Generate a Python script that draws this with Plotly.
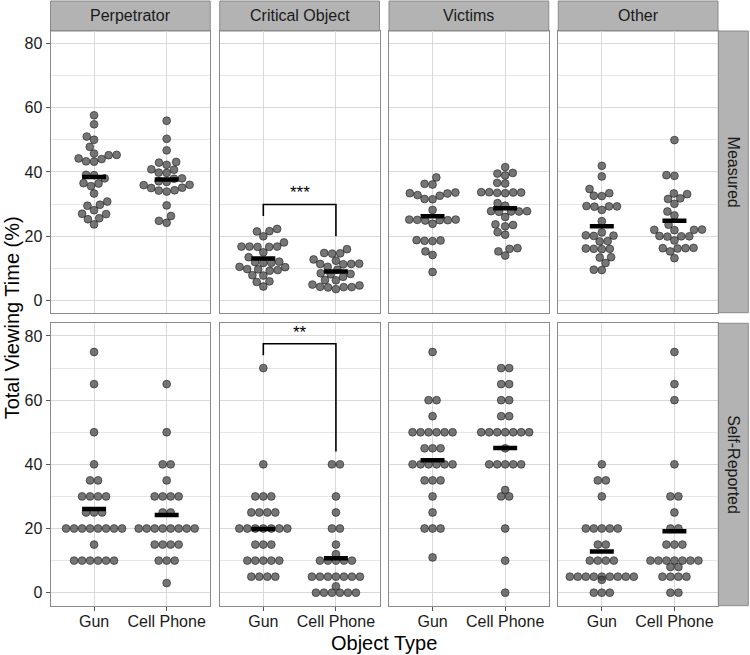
import numpy as np
import plotly.graph_objects as go

# facets / categories
facets = ["Perpetrator", "Critical Object", "Victims", "Other"]
measures = ["Measured", "Self-Reported"]
object_types = ["Gun", "Cell Phone"]
y_ticks = [0, 20, 40, 60, 80]

# Measured viewing time (%)
perp_meas_gun = [57.6, 54.8, 51.0, 50.0, 47.8, 45.2, 45.7, 45.3, 44.0, 43.2, 43.3, 44.2, 39.1, 39.0,
                 38.0, 36.5, 36.4, 35.6, 33.3, 30.8, 29.5, 29.8, 28.1, 27.0, 26.9, 25.6, 25.3, 23.7]
perp_meas_cell = [55.9, 50.3, 46.7, 43.1, 42.9, 42.2, 40.8, 40.7, 39.8, 39.7, 38.0, 37.9, 37.1, 36.9,
                  36.0, 35.9, 35.1, 35.0, 34.3, 34.2, 33.9, 29.6, 26.3, 24.8, 24.2]
crit_meas_gun = [22.3, 21.6, 21.5, 20.0, 18.1, 16.8, 16.8, 16.7, 16.8, 16.7, 15.0, 13.5, 12.1, 12.0,
                 11.8, 11.7, 10.5, 10.4, 9.3, 9.7, 9.8, 9.5, 7.9, 7.8, 5.8, 6.0, 4.4]
crit_meas_cell = [16.0, 14.7, 14.8, 14.6, 12.4, 12.8, 11.4, 11.5, 11.3, 11.4, 10.5, 9.6, 8.2, 8.3,
                  8.5, 7.4, 6.3, 6.4, 4.7, 4.2, 4.1, 4.3, 4.2, 5.0, 3.6]
vict_meas_gun = [38.3, 36.3, 36.1, 33.6, 33.4, 33.3, 32.6, 32.8, 31.5, 31.6, 28.2, 25.2, 25.0, 25.1,
                 24.9, 25.2, 25.0, 23.9, 18.8, 18.6, 18.7, 18.5, 15.3, 14.2, 8.9]
vict_meas_cell = [41.5, 39.7, 39.5, 38.9, 36.6, 36.4, 33.7, 33.6, 33.5, 33.6, 33.4, 33.7, 30.3, 29.5,
                  27.8, 27.6, 27.7, 27.7, 27.8, 26.0, 23.7, 23.5, 23.1, 21.3, 20.5, 16.3, 16.1, 15.3, 14.0]
other_meas_gun = [41.9, 38.6, 34.7, 33.4, 32.6, 32.5, 29.4, 29.3, 29.2, 29.3, 28.2, 24.7, 21.2, 20.3,
                  20.2, 20.1, 18.5, 18.4, 16.2, 16.1, 16.0, 16.1, 13.5, 13.4, 11.7, 9.6, 9.5]
other_meas_cell = [49.9, 39.0, 38.8, 33.3, 33.1, 31.8, 31.6, 30.1, 27.7, 26.5, 23.6, 22.1, 22.0, 21.9,
                   22.0, 20.1, 20.0, 19.9, 20.0, 18.7, 16.4, 16.3, 16.2, 16.3, 15.3, 13.2]

# Self-reported viewing time (%)
perp_self_gun = [75, 65, 50, 40] + [35] * 2 + [30] * 4 + [25] * 3 + [20] * 8 + [15] + [10] * 6
perp_self_cell = [65, 50] + [40] * 2 + [35] + [30] * 4 + [25] * 2 + [20] * 8 + [15] * 4 + [10] * 3 + [3]
crit_self_gun = [70, 40] + [30] * 3 + [25] * 4 + [20] * 7 + [15] * 3 + [10] * 5 + [5] * 4
crit_self_cell = [40] * 2 + [30, 25] + [20] * 2 + [15, 12] + [10] * 5 + [5] * 7 + [2] + [0] * 6
vict_self_gun = [75] + [60] * 2 + [55] + [50] * 6 + [45] * 3 + [40] * 6 + [35] * 3 + [30, 25] + [20] * 3 + [11]
vict_self_cell = [70] * 2 + [65] * 2 + [60] * 2 + [55] * 2 + [50] * 7 + [45] + [40] * 5 + [32] + [30] * 2 + [20, 10, 0]
other_self_gun = [40] + [35] * 2 + [30] + [20] * 5 + [15] * 2 + [10] * 4 + [5] * 9 + [4] + [0] * 3
other_self_cell = [75, 65, 60, 40] + [30] * 2 + [25] + [20] * 2 + [15] * 3 + [10] * 7 + [8] * 2 + [5] * 4 + [0] * 2

# significance labels: (measure, facet, stars)
sig_marks = [("Measured", "Critical Object", "***"), ("Self-Reported", "Critical Object", "**")]

data = {
    ("Measured", "Perpetrator"): (perp_meas_gun, perp_meas_cell),
    ("Measured", "Critical Object"): (crit_meas_gun, crit_meas_cell),
    ("Measured", "Victims"): (vict_meas_gun, vict_meas_cell),
    ("Measured", "Other"): (other_meas_gun, other_meas_cell),
    ("Self-Reported", "Perpetrator"): (perp_self_gun, perp_self_cell),
    ("Self-Reported", "Critical Object"): (crit_self_gun, crit_self_cell),
    ("Self-Reported", "Victims"): (vict_self_gun, vict_self_cell),
    ("Self-Reported", "Other"): (other_self_gun, other_self_cell),
}

W, H = 750, 655
LEFT, PW, GAP = 50.5, 159.75, 9.5
ROWS_PX = [(31.0, 312.7), (323.3, 605.7)]
Y_RANGES = [[-3.75, 83.8], [-4.05, 83.95]]
X_RANGE = [0.4, 2.6]
DOT = 8.0
SX = PW / (X_RANGE[1] - X_RANGE[0])
SY = 3.21

FONT = "Liberation Sans, Arial, sans-serif"
GRID = "#d9d9d9"
MINOR = "#e6e6e6"
BORDER = "#8a8a8a"
STRIP = "#b3b3b3"


def swarm(values):
    vals = np.asarray(values, float)
    off = np.zeros(len(vals))
    placed = []
    for i in np.argsort(vals, kind="stable"):
        y = vals[i] * SY
        blocks = []
        for px, py in placed:
            dy = abs(y - py)
            if dy < DOT:
                dx = np.sqrt(DOT * DOT - dy * dy)
                blocks.append((px - dx, px + dx))
        cands = [0.0] + [b for blk in blocks for b in blk]
        cands.sort(key=lambda c: (round(abs(c), 6), c))
        x = 0.0
        for c in cands:
            if all(not (a + 1e-6 < c < b - 1e-6) for a, b in blocks):
                x = c
                break
        placed.append((x, y))
        off[i] = x / SX
    return off


def centered_rows(values):
    vals = np.asarray(values, float)
    off = np.zeros(len(vals))
    for v in np.unique(vals):
        idx = np.where(vals == v)[0]
        off[idx] = (np.arange(len(idx)) - (len(idx) - 1) / 2) * DOT / SX
    return off


def px_x(p):
    return p / W


def px_y(p):
    return 1 - p / H


fig = go.Figure()
layout = {}
shapes = []
annotations = []

for r, meas in enumerate(measures):
    for c, facet in enumerate(facets):
        k = r * 4 + c + 1
        sfx = "" if k == 1 else str(k)
        x0 = LEFT + c * (PW + GAP)
        layout["xaxis" + sfx] = dict(
            domain=[px_x(x0), px_x(x0 + PW)], range=X_RANGE, anchor="y" + sfx,
            tickvals=[1, 2], ticktext=object_types, showticklabels=(r == 1),
            ticks="outside" if r == 1 else "", ticklen=4, tickcolor="#555",
            ticklabelstandoff=-3,
            showgrid=True, gridcolor=GRID, gridwidth=1.2, zeroline=False,
            showline=True, mirror=True, linecolor=BORDER, linewidth=1,
            tickfont=dict(size=16, color="#1a1a1a", family=FONT), automargin=False,
        )
        layout["yaxis" + sfx] = dict(
            domain=[px_y(ROWS_PX[r][1]), px_y(ROWS_PX[r][0])], range=Y_RANGES[r], anchor="x" + sfx,
            tickvals=y_ticks, showticklabels=(c == 0),
            ticks="outside" if c == 0 else "", ticklen=4, tickcolor="#555",
            showgrid=True, gridcolor=GRID, gridwidth=1.2, zeroline=False,
            minor=dict(dtick=10, tick0=0, showgrid=True, gridcolor=MINOR, gridwidth=0.9),
            showline=True, mirror=True, linecolor=BORDER, linewidth=1,
            tickfont=dict(size=16, color="#1a1a1a", family=FONT), automargin=False,
        )

        groups = data[(meas, facet)]
        for g, vals in enumerate(groups):
            off = swarm(vals) if meas == "Measured" else centered_rows(vals)
            xs = (g + 1) + off
            fig.add_trace(go.Scatter(
                x=xs, y=vals, mode="markers", xaxis="x" + sfx, yaxis="y" + sfx,
                marker=dict(size=7.8, color="rgba(60,60,60,0.7)",
                            line=dict(color="rgba(30,30,30,0.75)", width=0.8)),
                showlegend=False, hoverinfo="y",
            ))
            m = float(np.mean(vals))
            fig.add_trace(go.Scatter(
                x=[g + 1 - 0.165, g + 1 + 0.165], y=[m, m], mode="lines",
                xaxis="x" + sfx, yaxis="y" + sfx,
                line=dict(color="black", width=4.5), showlegend=False, hoverinfo="skip",
            ))

        for sm, sf, stars in sig_marks:
            if sm == meas and sf == facet:
                gmax = [max(v) for v in groups]
                top = max(gmax) + 7.6
                fig.add_trace(go.Scatter(
                    x=[1, 1, 2, 2], y=[gmax[0] + 4, top, top, gmax[1] + 4], mode="lines",
                    xaxis="x" + sfx, yaxis="y" + sfx,
                    line=dict(color="black", width=1.6), showlegend=False, hoverinfo="skip",
                ))
                annotations.append(dict(
                    x=1.5, y=top + 3.6, xref="x" + sfx, yref="y" + sfx, text=stars,
                    xanchor="center", yanchor="middle",
                    showarrow=False, font=dict(size=17, color="black", family=FONT),
                ))

# strips on top
for c, facet in enumerate(facets):
    x0 = LEFT + c * (PW + GAP)
    shapes.append(dict(type="rect", xref="paper", yref="paper",
                       x0=px_x(x0), x1=px_x(x0 + PW), y0=px_y(31), y1=px_y(1),
                       fillcolor=STRIP, line=dict(color=BORDER, width=1), layer="below"))
    annotations.append(dict(x=px_x(x0 + PW / 2), y=px_y(16), xref="paper", yref="paper",
                            text=facet, showarrow=False, xanchor="center", yanchor="middle",
                            font=dict(size=16, color="#1a1a1a", family=FONT)))

# strips on the right
for r, meas in enumerate(measures):
    shapes.append(dict(type="rect", xref="paper", yref="paper",
                       x0=px_x(718.3), x1=px_x(748.3), y0=px_y(ROWS_PX[r][1]), y1=px_y(ROWS_PX[r][0]),
                       fillcolor=STRIP, line=dict(color=BORDER, width=1), layer="below"))
    annotations.append(dict(x=px_x(733.3), y=px_y(sum(ROWS_PX[r]) / 2), xref="paper", yref="paper",
                            text=meas, textangle=90, showarrow=False,
                            xanchor="center", yanchor="middle",
                            font=dict(size=16, color="#1a1a1a", family=FONT)))

# axis titles
annotations.append(dict(x=px_x((LEFT + 718) / 2), y=px_y(643), xref="paper", yref="paper",
                        text="Object Type", showarrow=False, xanchor="center", yanchor="middle",
                        font=dict(size=20, color="black", family=FONT)))
annotations.append(dict(x=px_x(12), y=px_y((ROWS_PX[0][0] + ROWS_PX[1][1]) / 2), xref="paper",
                        yref="paper", text="Total Viewing Time (%)", textangle=-90, showarrow=False,
                        xanchor="center", yanchor="middle",
                        font=dict(size=20, color="black", family=FONT)))

fig.update_layout(
    width=W, height=H, margin=dict(l=0, r=0, t=0, b=0),
    paper_bgcolor="white", plot_bgcolor="white",
    shapes=shapes, annotations=annotations, showlegend=False,
    font=dict(family=FONT), **layout,
)
# the page body has a default 8px margin; drop it so the figure fills the window
fig.write_html("out.html", config={"displayModeBar": False},
               post_script="document.body.style.margin='0';")
